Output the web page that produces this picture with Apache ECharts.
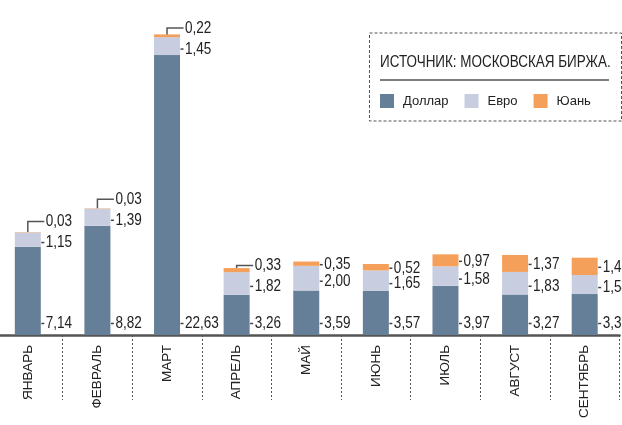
<!DOCTYPE html>
<html><head><meta charset="utf-8">
<script src="https://cdn.jsdelivr.net/npm/echarts@6/dist/echarts.min.js"></script>
<style>html,body{margin:0;padding:0;background:#fff}#c{width:622px;height:425px}</style>
</head><body><div id="c"></div>
<script>
const months = ['ЯНВАРЬ','ФЕВРАЛЬ','МАРТ','АПРЕЛЬ','МАЙ','ИЮНЬ','ИЮЛЬ','АВГУСТ','СЕНТЯБРЬ'];
const dollar = [7.14, 8.82, 22.63, 3.26, 3.59, 3.57, 3.97, 3.27, 3.31];
const euro   = [1.15, 1.39, 1.45, 1.82, 2.00, 1.65, 1.58, 1.83, 1.54];
const yuan   = [0.03, 0.03, 0.22, 0.33, 0.35, 0.52, 0.97, 1.37, 1.40];
const seriesNames = ['Доллар', 'Евро', 'Юань'];
const sourceText = 'ИСТОЧНИК: МОСКОВСКАЯ БИРЖА.';

const FONT = "'Liberation Sans Narrow', 'Liberation Sans', Arial, sans-serif";
const NARROW = 0.82;
const COLORS = ['#667f98', '#c8cde0', '#f5a05a'];
const BAR_W = 26;
const fmt = v => v.toFixed(2).replace('.', ',');

const chart = echarts.init(document.getElementById('c'), null, {renderer: 'canvas'});

function renderLabels(params, api) {
  const i = api.value(0);
  const half = BAR_W / 2;
  const base = api.coord([i, 0]);
  const cx = base[0];
  const right = cx + half;
  const yD = api.coord([i, dollar[i]])[1];
  const yE = api.coord([i, dollar[i] + euro[i]])[1];
  const yY = api.coord([i, dollar[i] + euro[i] + yuan[i]])[1];
  const children = [];
  const txt = (y, v) => children.push({type: 'text', x: right + 5, y: y, scaleX: NARROW, style: {
    x: 0, y: 0, text: fmt(v), fill: '#222', fontSize: 16.5, fontFamily: FONT,
    align: 'left', verticalAlign: 'middle'}});
  const dash = y => children.push({type: 'line', shape: {x1: right + 0.5, y1: y, x2: right + 3.5, y2: y},
    style: {stroke: '#444', lineWidth: 1.5}});
  // dollar
  const ld = base[1] - 11.5;
  dash(ld); txt(ld, dollar[i]);
  // euro
  const le = (yD + yE) / 2 + 3;
  dash(le); txt(le, euro[i]);
  // yuan
  if (yE - yY < 4.2) {
    const ly = le - 21;
    children.push({type: 'polyline', shape: {points: [[cx, yY], [cx, ly], [right + 3.5, ly]]},
      style: {stroke: '#555', lineWidth: 1.5, fill: null}});
    txt(ly, yuan[i]);
  } else {
    const ly = (yE + yY) / 2 + 1;
    dash(ly); txt(ly, yuan[i]);
  }
  return {type: 'group', children};
}

const option = {
  animation: false,
  color: COLORS,
  grid: {left: -7, right: 2.5, top: 1, bottom: 90, outerBoundsMode: 'none', containLabel: false},
  legend: {
    data: seriesNames, left: 380, top: 94, icon: 'rect', itemWidth: 14, itemHeight: 14, itemGap: 16,
    padding: 0, selectedMode: false,
    textStyle: {fontSize: 13, fontFamily: FONT, color: '#222', padding: [0, 0, 0, 4]}
  },
  xAxis: {
    type: 'category', data: months,
    axisLine: {lineStyle: {color: '#555', width: 2.5}},
    axisTick: {show: true, length: 65, lineStyle: {color: '#555', width: 1, type: [2, 2]}},
    axisLabel: {rotate: 90, margin: 10, fontSize: 13.5, fontFamily: FONT, color: '#222'}
  },
  yAxis: {type: 'value', min: 0, max: 27, show: false, splitLine: {show: false}},
  graphic: [
    {type: 'rect', shape: {x: 369.5, y: 33, width: 252, height: 88},
      style: {fill: null, stroke: '#555', lineWidth: 1, lineDash: [3, 2]}},
    {type: 'text', x: 380, y: 62, scaleX: NARROW, style: {text: sourceText, fontSize: 16.4, fontFamily: FONT,
      fill: '#222', align: 'left', verticalAlign: 'middle'}},
    {type: 'line', shape: {x1: 380, y1: 80, x2: 609, y2: 80}, style: {stroke: '#555', lineWidth: 1.5}}
  ],
  series: [
    {name: seriesNames[0], type: 'bar', stack: 's', barWidth: BAR_W, data: dollar},
    {name: seriesNames[1], type: 'bar', stack: 's', barWidth: BAR_W, data: euro},
    {name: seriesNames[2], type: 'bar', stack: 's', barWidth: BAR_W, data: yuan},
    {type: 'custom', coordinateSystem: 'cartesian2d', renderItem: renderLabels, z: 5,
      data: months.map((m, i) => [i, 0]), silent: true}
  ]
};
chart.setOption(option);
</script></body></html>
